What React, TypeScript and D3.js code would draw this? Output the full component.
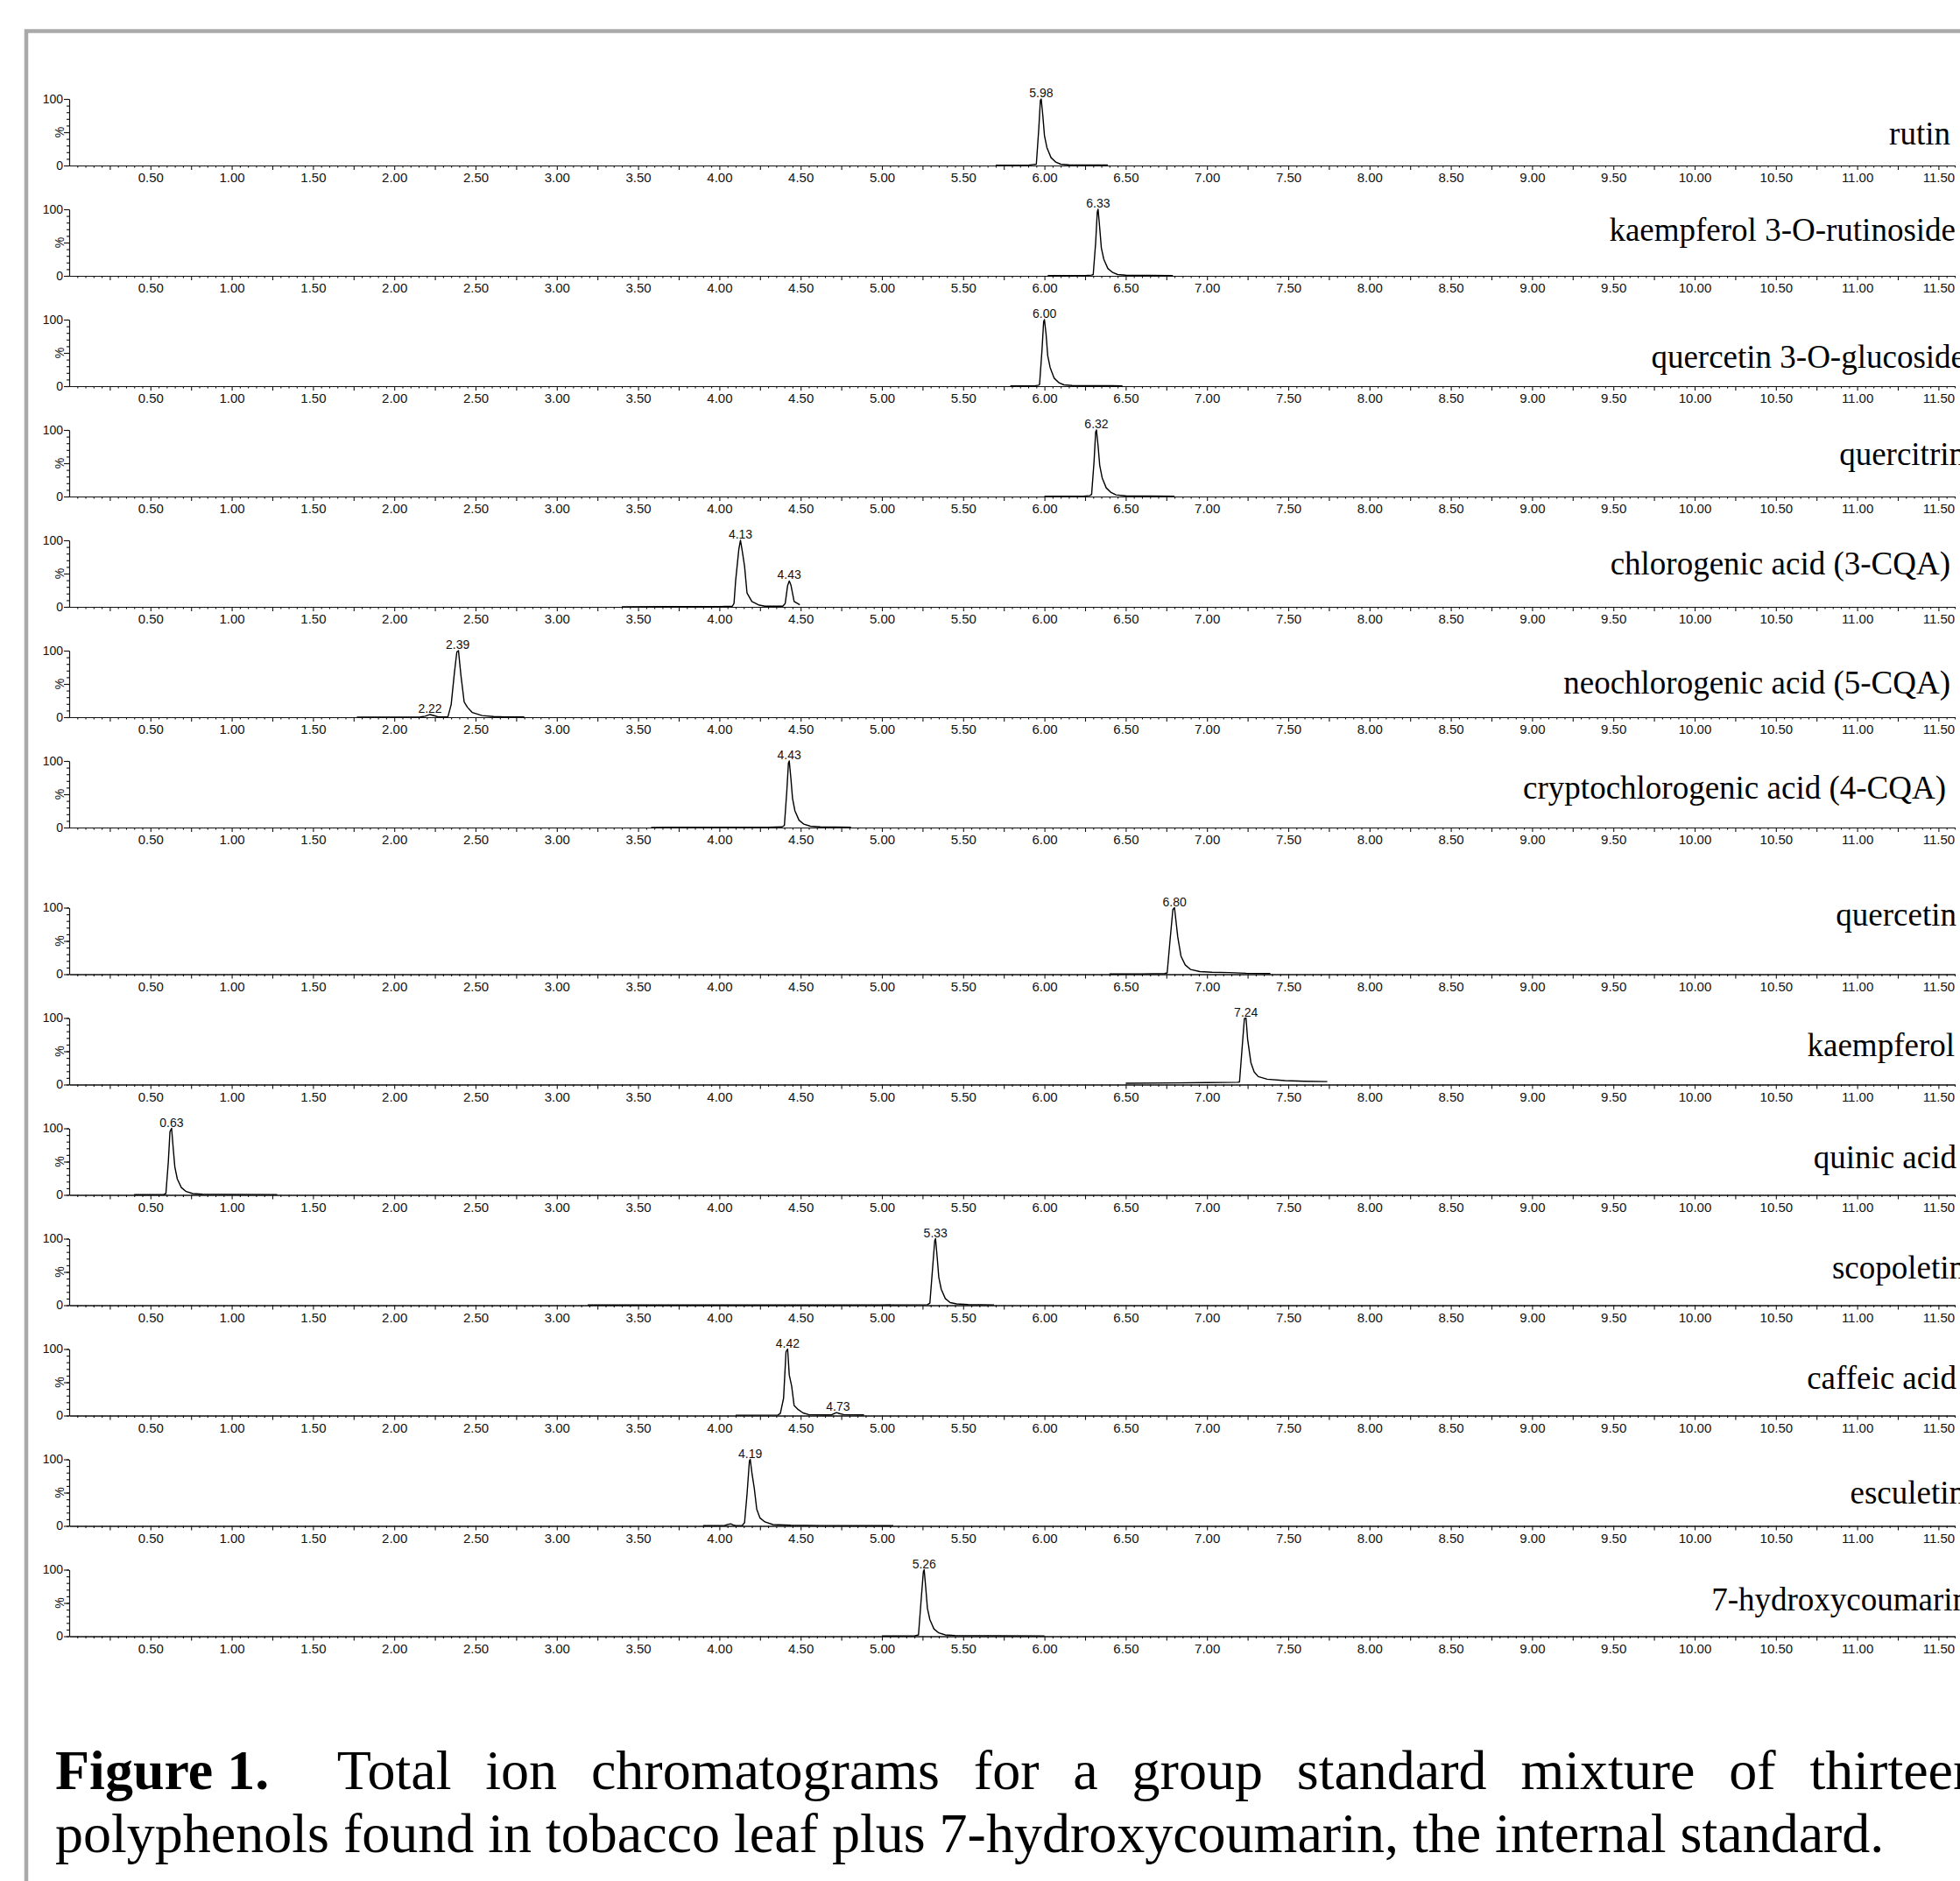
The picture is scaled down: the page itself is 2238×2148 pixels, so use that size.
import React, { useEffect, useRef } from 'react';
import * as d3 from 'd3';

// compound names, top to bottom
const compounds = [
  'rutin',
  'kaempferol 3-O-rutinoside',
  'quercetin 3-O-glucoside',
  'quercitrin',
  'chlorogenic acid (3-CQA)',
  'neochlorogenic acid (5-CQA)',
  'cryptochlorogenic acid (4-CQA)',
  'quercetin',
  'kaempferol',
  'quinic acid',
  'scopoletin',
  'caffeic acid',
  'esculetin',
  '7-hydroxycoumarin',
];

// traces: [retention time (min), relative intensity (%)]
const rutin: [number, number][] = [
  [5.70, 0.3], [5.90, 0.5], [5.93, 1.5], [5.95, 2], [5.965, 55], [5.975, 98], [5.98, 100], [5.99, 75],
  [6.00, 45], [6.015, 27], [6.04, 12], [6.07, 5], [6.10, 2], [6.15, 1], [6.39, 0.7],
];
const kaempferolRutinoside: [number, number][] = [
  [6.02, 0.3], [6.25, 0.5], [6.29, 1.2], [6.30, 2], [6.315, 50], [6.325, 96], [6.33, 100], [6.34, 72],
  [6.35, 42], [6.365, 25], [6.39, 11], [6.42, 5], [6.45, 2], [6.50, 1], [6.79, 0.5],
];
const quercetinGlucoside: [number, number][] = [
  [5.79, 0.3], [5.94, 0.5], [5.965, 1.5], [5.97, 3], [5.985, 55], [5.995, 97], [6.00, 100], [6.01, 78],
  [6.02, 46], [6.035, 28], [6.06, 12], [6.09, 5], [6.12, 2], [6.17, 1], [6.48, 0.5],
];
const quercitrin: [number, number][] = [
  [6.00, 0.3], [6.24, 0.5], [6.28, 1.5], [6.29, 3], [6.305, 52], [6.315, 97], [6.32, 100], [6.33, 76],
  [6.34, 47], [6.355, 28], [6.38, 13], [6.41, 6], [6.44, 2.5], [6.50, 1], [6.80, 0.5],
];
const chlorogenic: [number, number][] = [
  [3.40, 0.2], [4.00, 0.5], [4.08, 1], [4.09, 5], [4.10, 39], [4.12, 87], [4.13, 100], [4.14, 85],
  [4.155, 61], [4.17, 21], [4.20, 8], [4.24, 3], [4.28, 1], [4.39, 1], [4.405, 5], [4.42, 32],
  [4.43, 39], [4.44, 33], [4.46, 8], [4.495, 3],
];
const neochlorogenic: [number, number][] = [
  [1.77, 0.2], [2.16, 0.3], [2.19, 1.5], [2.22, 4], [2.25, 2], [2.27, 0.5], [2.33, 0.5], [2.35, 19],
  [2.37, 67], [2.385, 98], [2.395, 100], [2.41, 63], [2.43, 23], [2.45, 15], [2.48, 7], [2.54, 2.5],
  [2.61, 1], [2.68, 0.5], [2.80, 0.3],
];
const cryptochlorogenic: [number, number][] = [
  [3.58, 0.2], [4.30, 0.5], [4.385, 1], [4.40, 3], [4.415, 55], [4.425, 97], [4.43, 100], [4.44, 74],
  [4.45, 44], [4.465, 25], [4.49, 11], [4.52, 5], [4.56, 2], [4.62, 1], [4.81, 0.5],
];
const quercetin: [number, number][] = [
  [6.40, 0.3], [6.60, 0.5], [6.74, 1], [6.755, 2], [6.773, 52], [6.79, 97], [6.80, 100], [6.82, 56],
  [6.84, 27], [6.866, 14], [6.90, 7], [6.956, 4], [7.03, 3], [7.135, 2.5], [7.24, 1.5], [7.39, 1],
];
const kaempferol: [number, number][] = [
  [6.50, 2], [6.80, 2.5], [7.00, 3], [7.19, 3.5], [7.20, 4], [7.216, 55], [7.23, 99], [7.24, 100],
  [7.25, 68], [7.27, 33], [7.29, 19], [7.315, 12], [7.37, 8], [7.48, 6], [7.60, 5], [7.74, 4.5],
];
const quinic: [number, number][] = [
  [0.40, 0.3], [0.58, 0.5], [0.595, 2], [0.61, 50], [0.62, 95], [0.63, 100], [0.64, 70], [0.65, 42],
  [0.665, 24], [0.69, 11], [0.72, 5], [0.76, 2], [0.82, 1], [1.28, 0.5],
];
const scopoletin: [number, number][] = [
  [3.19, 0.3], [5.00, 0.5], [5.28, 0.8], [5.295, 3], [5.31, 50], [5.325, 97], [5.33, 100], [5.34, 72],
  [5.35, 42], [5.365, 24], [5.39, 10], [5.42, 4], [5.46, 2], [5.53, 1], [5.69, 0.5],
];
const caffeic: [number, number][] = [
  [4.10, 0.5], [4.36, 0.8], [4.375, 3], [4.395, 26], [4.41, 96], [4.42, 100], [4.43, 61], [4.445, 44],
  [4.46, 15], [4.485, 9], [4.515, 4], [4.55, 1.5], [4.64, 1], [4.69, 1], [4.72, 4.5], [4.74, 3],
  [4.765, 1.5], [4.89, 1],
];
const esculetin: [number, number][] = [
  [3.90, 0.3], [4.03, 0.5], [4.055, 2.5], [4.07, 3], [4.085, 1.5], [4.10, 0.5], [4.14, 0.5], [4.155, 5],
  [4.17, 47], [4.185, 98], [4.19, 100], [4.20, 80], [4.215, 56], [4.23, 25], [4.25, 12], [4.28, 6],
  [4.33, 2], [4.44, 1], [4.62, 0.5], [5.07, 0.3],
];
const hydroxycoumarin: [number, number][] = [
  [5.00, 0.3], [5.20, 0.5], [5.225, 2], [5.24, 50], [5.255, 97], [5.26, 100], [5.27, 72], [5.28, 42],
  [5.295, 25], [5.32, 11], [5.35, 5], [5.39, 2], [5.45, 1], [6.00, 0.5],
];

const traces = [
  rutin, kaempferolRutinoside, quercetinGlucoside, quercitrin, chlorogenic, neochlorogenic,
  cryptochlorogenic, quercetin, kaempferol, quinic, scopoletin, caffeic, esculetin, hydroxycoumarin,
];

// peak annotations: [panel, retention time, height of apex]
const peakLabels: [number, number, number][] = [
  [0, 5.98, 100], [1, 6.33, 100], [2, 6.00, 100], [3, 6.32, 100], [4, 4.13, 100], [4, 4.43, 39],
  [5, 2.39, 100], [5, 2.22, 4], [6, 4.43, 100], [7, 6.80, 100], [8, 7.24, 100], [9, 0.63, 100],
  [10, 5.33, 100], [11, 4.42, 100], [11, 4.73, 4.5], [12, 4.19, 100], [13, 5.26, 100],
];

const captionHead = 'Figure 1.';
const captionLine1 = ['Total', 'ion', 'chromatograms', 'for', 'a', 'group', 'standard', 'mixture', 'of', 'thirteen'];
const captionLine2 = 'polyphenols found in tobacco leaf plus 7-hydroxycoumarin, the internal standard.';

// layout of the compound names: [right edge x, height above the axis]
const nameLayout: [number, number][] = [
  [2227, 24], [2233, 40], [2244, 21], [2244, 36], [2227, 37], [2227, 27], [2222, 33],
  [2234, 56], [2232, 33], [2234, 31], [2244, 31], [2234, 31], [2244, 26], [2248, 30],
];

const W = 2238;
const H = 2148;
const sans = 'Liberation Sans, Arial, sans-serif';
const serif = 'Liberation Serif, Times New Roman, serif';

function App() {
  const ref = useRef<SVGSVGElement>(null);

  useEffect(() => {
    const svg = d3.select(ref.current);
    svg.selectAll('*').remove();

    svg.append('rect')
      .attr('x', 30).attr('y', 35.5)
      .attr('width', 2400).attr('height', 2400)
      .attr('fill', 'none')
      .attr('stroke', '#a9a9a9')
      .attr('stroke-width', 4.5);

    const x = d3.scaleLinear().domain([0, 11.6]).range([79, 79 + 11.6 * 185.6]);
    const minorX = d3.range(1, 233).filter(i => i % 5 !== 0).map(i => i * 0.05);
    const majorX = d3.range(1, 47).map(i => i * 0.25);

    traces.forEach((trace, i) => {
      const base = i < 7 ? 189 + 126 * i : 1112.5 + 126 * (i - 7);
      const y = d3.scaleLinear().domain([0, 100]).range([base, base - 76]);
      const g = svg.append('g');

      g.append('g')
        .attr('transform', `translate(0,${base})`)
        .call(d3.axisBottom(x).tickValues(minorX).tickSize(2.5).tickSizeOuter(0).tickFormat(() => ''));

      g.append('g')
        .attr('transform', `translate(0,${base})`)
        .call(d3.axisBottom(x).tickValues(majorX).tickSize(5).tickSizeOuter(0).tickPadding(3.5)
          .tickFormat((d: any) => (Math.round(d * 4) % 2 === 0 ? d3.format('.2f')(d) : '')))
        .attr('font-size', 15)
        .attr('font-family', sans);

      g.append('g')
        .attr('transform', `translate(${x(0)},0)`)
        .call(d3.axisLeft(y).tickValues(d3.range(0, 101, 10)).tickSize(3).tickSizeOuter(0).tickFormat(() => ''));

      g.append('g')
        .attr('transform', `translate(${x(0)},0)`)
        .call(d3.axisLeft(y).tickValues([0, 50, 100]).tickSize(6).tickSizeOuter(0).tickPadding(1)
          .tickFormat((d: any) => (d === 50 ? '' : String(d))))
        .attr('font-size', 14)
        .attr('font-family', sans);

      g.selectAll('path.domain, line').attr('stroke', '#111').attr('stroke-width', 1.1);
      g.selectAll('text').attr('fill', '#111');

      g.append('text')
        .attr('transform', `translate(${x(0) - 11},${y(50)}) rotate(-90)`)
        .attr('text-anchor', 'middle')
        .attr('dominant-baseline', 'central')
        .attr('font-family', sans)
        .attr('font-size', 14)
        .attr('fill', '#111')
        .text('%');

      const line = d3.line<[number, number]>()
        .x(d => x(d[0]))
        .y(d => y(d[1]));

      g.append('path')
        .datum(trace)
        .attr('fill', 'none')
        .attr('stroke', '#000')
        .attr('stroke-width', 1.4)
        .attr('stroke-linejoin', 'round')
        .attr('d', line);

      peakLabels.filter(p => p[0] === i).forEach(p => {
        g.append('text')
          .attr('x', x(p[1]))
          .attr('y', y(p[2]) - 2)
          .attr('text-anchor', 'middle')
          .attr('font-family', sans)
          .attr('font-size', 14)
          .attr('fill', '#111')
          .text(p[1].toFixed(2));
      });

      g.append('text')
        .attr('x', nameLayout[i][0])
        .attr('y', base - nameLayout[i][1])
        .attr('text-anchor', 'end')
        .attr('font-family', serif)
        .attr('font-size', 37)
        .attr('fill', '#000')
        .text(compounds[i]);
    });

    // caption, first line justified
    const cap = svg.append('g')
      .attr('font-family', serif)
      .attr('font-size', 64)
      .attr('fill', '#000');

    const words = [captionHead, ...captionLine1];
    const nodes = words.map((w, k) => cap.append('text')
      .attr('y', 2043)
      .attr('font-weight', k === 0 ? 'bold' : 'normal')
      .text(w));
    const widths = nodes.map(n => (n.node() as SVGTextElement).getComputedTextLength());
    const left = 63;
    const right = 2262;
    const weights = captionLine1.map((_, k) => (k === 0 ? 2 : 1));
    const unit = (right - left - d3.sum(widths)) / d3.sum(weights);
    let cx = left;
    nodes.forEach((n, k) => {
      n.attr('x', cx);
      cx += widths[k] + (k < weights.length ? weights[k] * unit : 0);
    });

    cap.append('text')
      .attr('x', left)
      .attr('y', 2115)
      .text(captionLine2);
  }, []);

  return (
    <svg
      ref={ref}
      width={W}
      height={H}
      style={{ position: 'absolute', left: 0, top: 0, background: '#fff' }}
    />
  );
}

export default App;
